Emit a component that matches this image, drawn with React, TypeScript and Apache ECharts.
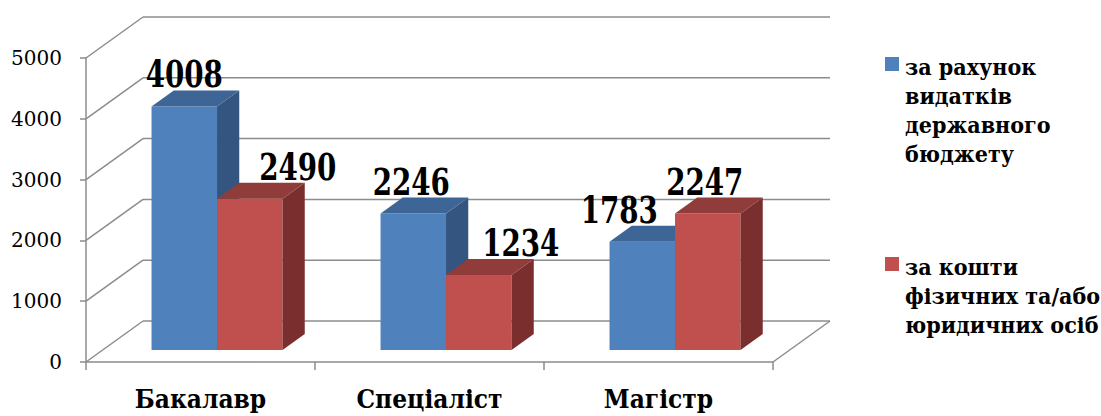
import React, { useEffect, useRef } from 'react';
import * as echarts from 'echarts';

// ---------- data ----------
const categories = ['Бакалавр', 'Спеціаліст', 'Магістр'];
const seriesNames = [
  'за рахунок\nвидатків\nдержавного\nбюджету',
  'за кошти\nфізичних та/або\nюридичних осіб',
];
const stateBudget = [4008, 2246, 1783];
const privateFunds = [2490, 1234, 2247];
const yTickValues = [0, 1000, 2000, 3000, 4000, 5000];

// ---------- layout / style ----------
const DEPTH_X = 57;
const DEPTH_Y = -41;
const BAR_FRONT = 0.29;
const BAR_DEPTH = 0.39;
const BAR_WIDTH = 0.286;
const LINE_COLOR = '#8c8c8c';
const SERIF = 'DejaVu Serif';
const SERIF_COND = 'DejaVu Serif Condensed';
const FACE_COLORS = [
  { front: '#4F81BD', top: '#3D6595', side: '#34557F' },
  { front: '#C0504D', top: '#8F3C3A', side: '#7A2F2E' },
];
const LABEL_NUDGE = [
  [0, -2, -23],
  [48, 42, -3],
];
const LEGEND_TOPS = [52, 252];

function wallRender(params: any, api: any) {
  const cs = params.coordSys;
  const v = api.value(1);
  const y = api.coord([0, v])[1];
  const x0 = cs.x;
  const x1 = cs.x + cs.width;
  const style = { stroke: LINE_COLOR, lineWidth: 1.5 };
  const children: any[] = [
    { type: 'line', shape: { x1: x0, y1: y, x2: x0 + DEPTH_X, y2: y + DEPTH_Y }, style },
    { type: 'line', shape: { x1: x0 + DEPTH_X, y1: y + DEPTH_Y, x2: x1 + DEPTH_X, y2: y + DEPTH_Y }, style },
  ];
  if (v === yTickValues[0]) {
    children.push({ type: 'line', shape: { x1: x1, y1: y, x2: x1 + DEPTH_X, y2: y + DEPTH_Y }, style });
  }
  return { type: 'group', children };
}

function makeBarRender(s: number) {
  return (params: any, api: any) => {
    const idx = api.value(0);
    const v = api.value(1);
    const [cx, yTop] = api.coord([idx, v]);
    const yBase = api.coord([idx, 0])[1];
    const band = api.size([1, 0])[0];
    const w = band * BAR_WIDTH;
    const fx = DEPTH_X * BAR_FRONT;
    const fy = DEPTH_Y * BAR_FRONT;
    const bx = DEPTH_X * BAR_DEPTH;
    const by = DEPTH_Y * BAR_DEPTH;
    const left = cx + fx + (s === 0 ? -w : 0);
    const right = left + w;
    const top = yTop + fy;
    const bottom = yBase + fy;
    const c = FACE_COLORS[s];
    return {
      type: 'group',
      children: [
        { type: 'rect', shape: { x: left, y: top, width: w, height: bottom - top }, style: { fill: c.front } },
        { type: 'polygon', shape: { points: [[right, top], [right + bx, top + by], [right + bx, bottom + by], [right, bottom]] }, style: { fill: c.side } },
        { type: 'polygon', shape: { points: [[left, top], [right, top], [right + bx, top + by], [left + bx, top + by]] }, style: { fill: c.top } },
        {
          type: 'text',
          x: left + w / 2 + LABEL_NUDGE[s][idx],
          y: top + by - 16,
          scaleX: 0.75,
          style: { text: String(v), fontFamily: SERIF, fontWeight: 'bold', fontSize: 37, fill: '#000', align: 'center', verticalAlign: 'middle' },
        },
      ],
    };
  };
}

export default function App() {
  const ref = useRef<HTMLDivElement>(null);
  useEffect(() => {
    document.body.style.margin = '0';
    if (!ref.current) return;
    const chart = echarts.init(ref.current, null, { renderer: 'svg' });
    const values = [stateBudget, privateFunds];
    chart.setOption({
      animation: false,
      backgroundColor: '#fff',
      textStyle: { fontFamily: SERIF },
      grid: { left: 86, right: 328, top: 58, bottom: 54, containLabel: false },
      xAxis: {
        type: 'category',
        data: categories,
        axisLine: { show: true, lineStyle: { color: LINE_COLOR, width: 1.5 } },
        axisTick: { show: true, length: 8, lineStyle: { color: LINE_COLOR, width: 1.5 } },
        axisLabel: { color: '#000', fontFamily: SERIF_COND, fontWeight: 'bold', fontSize: 26, margin: 24 },
      },
      yAxis: {
        type: 'value',
        min: yTickValues[0],
        max: yTickValues[yTickValues.length - 1],
        interval: yTickValues[1] - yTickValues[0],
        axisLine: { show: true, lineStyle: { color: LINE_COLOR, width: 1.5 } },
        axisTick: { show: true, length: 6, lineStyle: { color: LINE_COLOR, width: 1.5 } },
        axisLabel: { color: '#000', fontFamily: SERIF, fontSize: 20, margin: 24, padding: [4, 0, 0, 0], formatter: (v: number) => String(v) },
        splitLine: { show: false },
      },
      graphic: seriesNames.map((name, i) => ({
        type: 'group',
        x: 885,
        y: LEGEND_TOPS[i],
        children: [
          { type: 'rect', shape: { x: 0, y: 5, width: 14, height: 14 }, style: { fill: FACE_COLORS[i].front } },
          { type: 'text', x: 20, y: 0, style: { text: name, fontFamily: SERIF_COND, fontWeight: 'bold', fontSize: 23, lineHeight: 29, fill: '#000', verticalAlign: 'top' } },
        ],
      })),
      series: [
        { type: 'custom', name: 'walls', silent: true, clip: false, z: 1, renderItem: wallRender, encode: { x: 0, y: 1 }, data: yTickValues.map((v) => [0, v]) },
        ...values.map((arr, s) => ({
          type: 'custom', name: seriesNames[s], silent: true, clip: false, z: 2 + s,
          renderItem: makeBarRender(s), encode: { x: 0, y: 1 }, data: arr.map((v, i) => [i, v]),
        })),
      ],
    });
    return () => chart.dispose();
  }, []);
  return <div ref={ref} style={{ width: 1101, height: 416 }} />;
}
